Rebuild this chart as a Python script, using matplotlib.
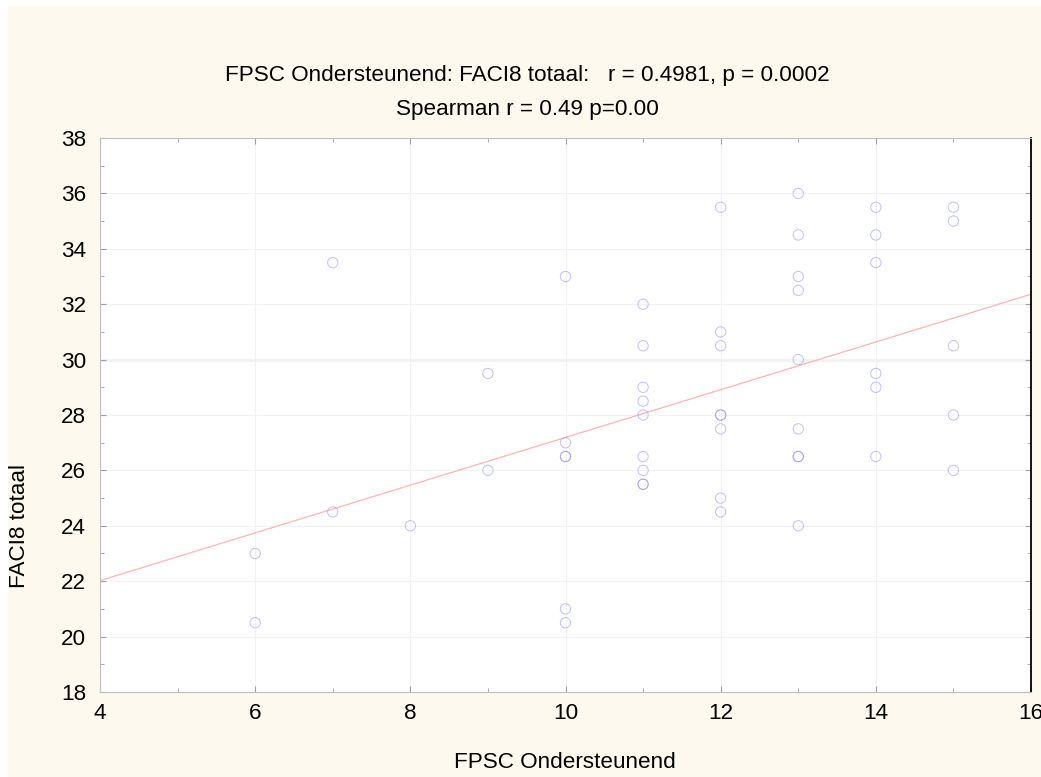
import numpy as np
import matplotlib
matplotlib.use("Agg")
import matplotlib.pyplot as plt
from matplotlib.patches import Rectangle
from matplotlib.ticker import MultipleLocator

plt.rcParams['font.family'] = ['Liberation Sans', 'DejaVu Sans']

# Data
fpsc = [6, 6, 7, 7, 8, 9, 9,
        10, 10, 10, 10, 10, 10,
        11, 11, 11, 11, 11, 11, 11, 11, 11,
        12, 12, 12, 12, 12, 12, 12, 12,
        13, 13, 13, 13, 13, 13, 13, 13, 13,
        14, 14, 14, 14, 14, 14,
        15, 15, 15, 15, 15]
faci = [23, 20.5, 33.5, 24.5, 24, 29.5, 26,
        33, 27, 26.5, 26.5, 21, 20.5,
        32, 30.5, 29, 28.5, 28, 26.5, 26, 25.5, 25.5,
        35.5, 31, 30.5, 28, 28, 27.5, 25, 24.5,
        36, 34.5, 33, 32.5, 30, 27.5, 26.5, 26.5, 24,
        35.5, 34.5, 33.5, 29.5, 29, 26.5,
        35.5, 35, 30.5, 28, 26]
title1 = "FPSC Ondersteunend: FACI8 totaal:   r = 0.4981, p = 0.0002"
title2 = "Spearman r = 0.49 p=0.00"
xlabel = "FPSC Ondersteunend"
ylabel = "FACI8 totaal"
x_range = (4, 16)
y_range = (18, 38)

FS = 16.2
W, H = 1041, 777
fig = plt.figure(figsize=(W / 100, H / 100), dpi=100)
fig.patch.set_facecolor('white')
fig.patches.append(Rectangle((8 / W, 0), 1 - 8 / W, 1 - 6 / H, transform=fig.transFigure,
                             facecolor='#fef9ee', edgecolor='none', zorder=-10))

ax = fig.add_axes([100 / W, 1 - 692 / H, (1031 - 100) / W, (692 - 138) / H])
ax.set_facecolor('white')
ax.set_xlim(*x_range)
ax.set_ylim(*y_range)

ax.xaxis.set_major_locator(MultipleLocator(2))
ax.xaxis.set_minor_locator(MultipleLocator(1))
ax.yaxis.set_major_locator(MultipleLocator(2))
ax.yaxis.set_minor_locator(MultipleLocator(1))
ax.grid(True, which='major', color='#f2f2f2', linewidth=0.8, zorder=0)
ax.axhline(30, color='#c8c8c8', linewidth=1, zorder=1)

ax.tick_params(axis='both', which='both', direction='in', color='#a0a0a0',
               labelsize=FS, labelcolor='black', right=True, top=True)
ax.tick_params(axis='both', which='major', length=4)
ax.tick_params(axis='both', which='minor', length=3)
ax.tick_params(axis='x', which='major', pad=8)
ax.tick_params(axis='y', which='major', pad=10)

for s in ['left', 'top', 'bottom']:
    ax.spines[s].set_color('#c0c0c0')
ax.spines['right'].set_color('black')
ax.spines['right'].set_linewidth(1.3)

# regression line
slope, intercept = np.polyfit(fpsc, faci, 1)
xs = np.array(x_range, dtype=float)
ax.plot(xs, intercept + slope * xs, color='#ffb4b4', linewidth=0.9, zorder=2)

ax.scatter(fpsc, faci, s=55, facecolors='none', edgecolors='#8080ff', linewidths=0.7,
           alpha=0.5, zorder=3)

fig.text(527 / W, 1 - 81 / H, title1, ha='center', va='baseline', fontsize=FS)
fig.text(527 / W, 1 - 115 / H, title2, ha='center', va='baseline', fontsize=FS)
fig.text(565 / W, 1 - 768 / H, xlabel, ha='center', va='baseline', fontsize=FS)
fig.text(20 / W, 1 - 526 / H, ylabel, ha='center', va='center', rotation=90, fontsize=FS)

fig.savefig('out.png', dpi=100, facecolor=fig.get_facecolor())
